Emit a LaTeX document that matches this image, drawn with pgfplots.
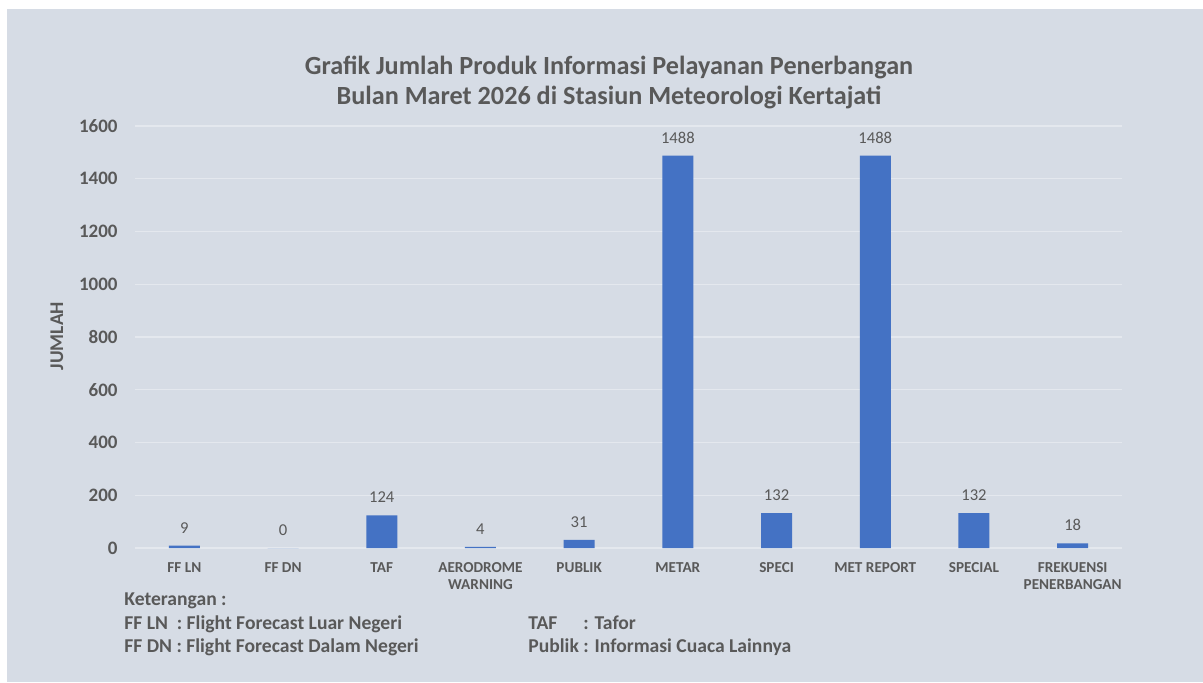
\documentclass[border=0pt]{standalone}
\usepackage{fontspec}
\setmainfont{Carlito}
\usepackage{pgfplots}
\pgfplotsset{compat=1.18}
\definecolor{bg}{HTML}{D6DCE5}
\definecolor{txt}{HTML}{595959}
\definecolor{barc}{HTML}{4472C4}
\definecolor{gridc}{HTML}{E4E8EE}
\begin{document}
\begin{tikzpicture}
\fill[white] (0,0) rectangle (601.5pt,341pt);
\fill[bg] (3.5pt,0) rectangle (601.5pt,336.5pt);
\begin{axis}[
  at={(67.5pt,67pt)}, anchor=south west,
  scale only axis, width=493.5pt, height=211pt,
  xmin=-0.5, xmax=9.5, ymin=0, ymax=1600,
  ybar, bar width=15.5pt,
  axis line style={draw=none},
  major tick length=0pt,
  ymajorgrids, grid style={gridc, line width=0.6pt},
  ytick={0,200,...,1600},
  xtick={0,...,9},
  xticklabels={FF LN, FF DN, TAF, {AERODROME\\WARNING}, PUBLIK, METAR, SPECI, MET REPORT, SPECIAL, {FREKUENSI\\PENERBANGAN}},
  /pgf/number format/.cd, assume math mode=true, 1000 sep={},
  /pgfplots/.cd,
  yticklabel style={font=\fontsize{9.5}{11}\selectfont\bfseries, text=txt, anchor=east, inner sep=0pt, xshift=-8.5pt},
  xticklabel style={font=\fontsize{7.6}{8.5}\selectfont\bfseries, text=txt, anchor=north, inner sep=0pt, yshift=-7pt, align=center},
  nodes near coords,
  every node near coord/.append style={font=\fontsize{8.3}{10}\selectfont, text=txt, anchor=south, inner sep=0pt, yshift=6pt},
]
\addplot[fill=barc, draw=none] coordinates {(0,9) (1,0) (2,124) (3,4) (4,31) (5,1488) (6,132) (7,1488) (8,132) (9,18)};
\end{axis}
\node[text=txt, font=\fontsize{13.1}{15}\selectfont\bfseries, align=center] at (304.5pt,299.5pt) {Grafik Jumlah Produk Informasi Pelayanan Penerbangan\\Bulan Maret 2026 di Stasiun Meteorologi Kertajati};
\node[text=txt, font=\fontsize{9.7}{11}\selectfont\bfseries, rotate=90] at (28.5pt,173pt) {JUMLAH};
\begin{scope}[every node/.style={text=txt, font=\fontsize{9.8}{11}\selectfont\bfseries, anchor=base west, inner sep=0pt}]
\node at (62pt,38.5pt) {Keterangan :};
\node at (62pt,26.5pt) {FF LN\ \ : Flight Forecast Luar Negeri};
\node at (62pt,15pt) {FF DN : Flight Forecast Dalam Negeri};
\node at (264pt,26.5pt) {TAF};
\node at (291.5pt,26.5pt) {: Tafor};
\node at (264pt,15pt) {Publik : Informasi Cuaca Lainnya};
\end{scope}
\end{tikzpicture}
\end{document}
